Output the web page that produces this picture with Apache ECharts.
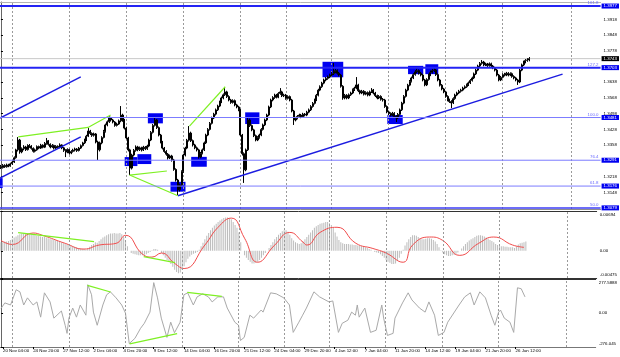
<!DOCTYPE html>
<html><head><meta charset="utf-8">
<script src="https://cdn.jsdelivr.net/npm/echarts@6/dist/echarts.min.js"></script>
<style>html,body{margin:0;padding:0;background:#fff}#c{width:620px;height:357px}</style>
</head><body><div id="c"></div><script>
// ---------------- DATA ----------------
const NBARS = 316; // H4 bar slots incl. empty shift space on the right
// [open, close, low, high]
const candles = [
[1.3262,1.3258,1.3252,1.3270],[1.3258,1.3268,1.3254,1.3274],[1.3268,1.3262,1.3257,1.3273],[1.3262,1.3270,1.3258,1.3276],[1.3270,1.3266,1.3260,1.3275],
[1.3266,1.3275,1.3262,1.3280],[1.3275,1.3283,1.3270,1.3290],[1.3283,1.3302,1.3279,1.3308],[1.3302,1.3337,1.3298,1.3342],[1.3337,1.3381,1.3330,1.3394],
[1.3381,1.3328,1.3320,1.3386],[1.3328,1.3342,1.3322,1.3348],[1.3342,1.3350,1.3335,1.3358],[1.3350,1.3338,1.3332,1.3355],[1.3338,1.3356,1.3334,1.3362],
[1.3356,1.3354,1.3346,1.3363],[1.3354,1.3344,1.3338,1.3358],[1.3344,1.3331,1.3325,1.3348],[1.3331,1.3337,1.3326,1.3343],[1.3337,1.3352,1.3333,1.3357],
[1.3352,1.3345,1.3340,1.3356],[1.3345,1.3358,1.3341,1.3364],[1.3358,1.3349,1.3344,1.3362],[1.3349,1.3366,1.3345,1.3372],[1.3366,1.3377,1.3360,1.3390],
[1.3377,1.3362,1.3356,1.3381],[1.3362,1.3350,1.3344,1.3366],[1.3350,1.3357,1.3346,1.3363],[1.3357,1.3345,1.3339,1.3360],[1.3345,1.3353,1.3341,1.3358],
[1.3353,1.3348,1.3342,1.3357],[1.3348,1.3359,1.3344,1.3366],[1.3359,1.3346,1.3340,1.3362],[1.3346,1.3335,1.3328,1.3350],[1.3335,1.3328,1.3305,1.3340],
[1.3328,1.3339,1.3322,1.3344],[1.3339,1.3323,1.3316,1.3342],[1.3323,1.3330,1.3318,1.3336],[1.3330,1.3336,1.3325,1.3342],[1.3336,1.3341,1.3330,1.3347],
[1.3341,1.3334,1.3328,1.3345],[1.3334,1.3345,1.3330,1.3350],[1.3345,1.3356,1.3341,1.3361],[1.3356,1.3368,1.3352,1.3373],[1.3368,1.3381,1.3363,1.3387],
[1.3381,1.3398,1.3376,1.3404],[1.3398,1.3421,1.3394,1.3434],[1.3421,1.3410,1.3403,1.3426],[1.3410,1.3402,1.3395,1.3415],[1.3402,1.3408,1.3396,1.3414],
[1.3408,1.3372,1.3366,1.3412],[1.3372,1.3337,1.3292,1.3378],[1.3337,1.3368,1.3330,1.3374],[1.3368,1.3392,1.3362,1.3398],[1.3392,1.3420,1.3388,1.3426],
[1.3420,1.3448,1.3414,1.3454],[1.3448,1.3462,1.3442,1.3468],[1.3462,1.3479,1.3457,1.3486],[1.3479,1.3470,1.3463,1.3484],[1.3470,1.3461,1.3455,1.3475],
[1.3461,1.3446,1.3440,1.3465],[1.3446,1.3452,1.3441,1.3458],[1.3452,1.3466,1.3448,1.3472],[1.3466,1.3492,1.3460,1.3532],[1.3492,1.3470,1.3462,1.3498],
[1.3470,1.3434,1.3428,1.3475],[1.3434,1.3390,1.3384,1.3440],[1.3390,1.3337,1.3330,1.3395],[1.3337,1.3256,1.3225,1.3342],[1.3256,1.3314,1.3250,1.3320],
[1.3314,1.3335,1.3308,1.3341],[1.3335,1.3350,1.3329,1.3357],[1.3350,1.3338,1.3331,1.3355],[1.3338,1.3346,1.3332,1.3352],[1.3346,1.3337,1.3330,1.3351],
[1.3337,1.3349,1.3332,1.3355],[1.3349,1.3342,1.3336,1.3354],[1.3342,1.3354,1.3337,1.3360],[1.3354,1.3381,1.3349,1.3387],[1.3381,1.3415,1.3376,1.3421],
[1.3415,1.3446,1.3410,1.3452],[1.3446,1.3470,1.3441,1.3479],[1.3470,1.3436,1.3430,1.3474],[1.3436,1.3403,1.3397,1.3441],[1.3403,1.3372,1.3366,1.3408],
[1.3372,1.3345,1.3339,1.3377],[1.3345,1.3330,1.3324,1.3350],[1.3330,1.3318,1.3311,1.3336],[1.3318,1.3301,1.3294,1.3323],[1.3301,1.3310,1.3296,1.3316],
[1.3310,1.3292,1.3285,1.3315],[1.3292,1.3250,1.3244,1.3297],[1.3250,1.3203,1.3196,1.3255],[1.3203,1.3159,1.3136,1.3208],[1.3159,1.3181,1.3152,1.3187],
[1.3181,1.3240,1.3176,1.3246],[1.3240,1.3314,1.3235,1.3320],[1.3314,1.3345,1.3308,1.3351],[1.3345,1.3380,1.3340,1.3386],[1.3380,1.3412,1.3374,1.3443],
[1.3412,1.3378,1.3372,1.3418],[1.3378,1.3359,1.3352,1.3383],[1.3359,1.3346,1.3340,1.3364],[1.3346,1.3337,1.3330,1.3352],[1.3337,1.3305,1.3298,1.3342],
[1.3305,1.3322,1.3300,1.3328],[1.3322,1.3337,1.3317,1.3343],[1.3337,1.3368,1.3332,1.3374],[1.3368,1.3403,1.3363,1.3409],[1.3403,1.3428,1.3398,1.3434],
[1.3428,1.3455,1.3423,1.3461],[1.3455,1.3479,1.3450,1.3485],[1.3479,1.3496,1.3474,1.3502],[1.3496,1.3515,1.3490,1.3521],[1.3515,1.3532,1.3510,1.3538],
[1.3532,1.3550,1.3527,1.3556],[1.3550,1.3568,1.3545,1.3574],[1.3568,1.3582,1.3562,1.3588],[1.3582,1.3595,1.3577,1.3617],[1.3595,1.3574,1.3568,1.3600],
[1.3574,1.3559,1.3553,1.3580],[1.3559,1.3548,1.3542,1.3564],[1.3548,1.3556,1.3543,1.3562],[1.3556,1.3537,1.3531,1.3561],[1.3537,1.3528,1.3522,1.3542],
[1.3528,1.3515,1.3509,1.3533],[1.3515,1.3403,1.3397,1.3520],[1.3403,1.3320,1.3312,1.3408],[1.3320,1.3248,1.3190,1.3326],[1.3248,1.3337,1.3242,1.3343],
[1.3337,1.3470,1.3332,1.3483],[1.3470,1.3445,1.3439,1.3476],[1.3445,1.3426,1.3420,1.3450],[1.3426,1.3400,1.3394,1.3431],[1.3400,1.3381,1.3375,1.3405],
[1.3381,1.3392,1.3376,1.3398],[1.3392,1.3403,1.3387,1.3409],[1.3403,1.3428,1.3398,1.3434],[1.3428,1.3448,1.3423,1.3454],[1.3448,1.3470,1.3443,1.3476],
[1.3470,1.3492,1.3465,1.3498],[1.3492,1.3528,1.3487,1.3534],[1.3528,1.3559,1.3523,1.3565],[1.3559,1.3570,1.3553,1.3576],[1.3570,1.3581,1.3564,1.3587],
[1.3581,1.3572,1.3566,1.3586],[1.3572,1.3588,1.3567,1.3594],[1.3588,1.3595,1.3582,1.3612],[1.3595,1.3578,1.3572,1.3600],[1.3578,1.3581,1.3572,1.3587],
[1.3581,1.3566,1.3560,1.3586],[1.3566,1.3574,1.3561,1.3580],[1.3574,1.3559,1.3553,1.3579],[1.3559,1.3510,1.3504,1.3564],[1.3510,1.3470,1.3448,1.3515],
[1.3470,1.3478,1.3464,1.3484],[1.3478,1.3486,1.3473,1.3492],[1.3486,1.3492,1.3481,1.3498],[1.3492,1.3484,1.3478,1.3497],[1.3484,1.3496,1.3479,1.3502],
[1.3496,1.3492,1.3486,1.3501],[1.3492,1.3505,1.3487,1.3511],[1.3505,1.3515,1.3500,1.3521],[1.3515,1.3530,1.3510,1.3536],[1.3530,1.3544,1.3525,1.3550],
[1.3544,1.3559,1.3539,1.3565],[1.3559,1.3580,1.3554,1.3586],[1.3580,1.3603,1.3575,1.3609],[1.3603,1.3618,1.3598,1.3624],[1.3618,1.3634,1.3613,1.3640],
[1.3634,1.3648,1.3629,1.3654],[1.3648,1.3655,1.3642,1.3661],[1.3655,1.3662,1.3649,1.3668],[1.3662,1.3670,1.3656,1.3676],[1.3670,1.3676,1.3664,1.3684],
[1.3676,1.3684,1.3670,1.3724],[1.3684,1.3690,1.3678,1.3698],[1.3690,1.3678,1.3672,1.3695],[1.3678,1.3670,1.3664,1.3684],[1.3670,1.3620,1.3614,1.3675],
[1.3620,1.3568,1.3560,1.3625],[1.3568,1.3580,1.3562,1.3586],[1.3580,1.3568,1.3562,1.3585],[1.3568,1.3582,1.3563,1.3588],[1.3582,1.3590,1.3577,1.3596],
[1.3590,1.3604,1.3585,1.3610],[1.3604,1.3612,1.3599,1.3618],[1.3612,1.3626,1.3607,1.3661],[1.3626,1.3600,1.3594,1.3631],[1.3600,1.3590,1.3584,1.3605],
[1.3590,1.3598,1.3585,1.3604],[1.3598,1.3585,1.3579,1.3603],[1.3585,1.3592,1.3580,1.3598],[1.3592,1.3581,1.3575,1.3597],[1.3581,1.3595,1.3576,1.3601],
[1.3595,1.3603,1.3590,1.3612],[1.3603,1.3590,1.3584,1.3608],[1.3590,1.3578,1.3572,1.3595],[1.3578,1.3568,1.3562,1.3583],[1.3568,1.3575,1.3563,1.3581],
[1.3575,1.3562,1.3556,1.3580],[1.3562,1.3559,1.3552,1.3568],[1.3559,1.3530,1.3524,1.3564],[1.3530,1.3506,1.3500,1.3535],[1.3506,1.3498,1.3492,1.3512],
[1.3498,1.3492,1.3486,1.3504],[1.3492,1.3500,1.3487,1.3506],[1.3500,1.3486,1.3480,1.3505],[1.3486,1.3479,1.3461,1.3491],[1.3479,1.3495,1.3474,1.3501],
[1.3495,1.3515,1.3490,1.3521],[1.3515,1.3545,1.3510,1.3551],[1.3545,1.3575,1.3540,1.3581],[1.3575,1.3603,1.3570,1.3609],[1.3603,1.3625,1.3598,1.3631],
[1.3625,1.3642,1.3620,1.3648],[1.3642,1.3657,1.3637,1.3663],[1.3657,1.3672,1.3652,1.3678],[1.3672,1.3684,1.3667,1.3692],[1.3684,1.3690,1.3678,1.3699],
[1.3690,1.3678,1.3672,1.3695],[1.3678,1.3670,1.3664,1.3684],[1.3670,1.3648,1.3642,1.3675],[1.3648,1.3626,1.3620,1.3653],[1.3626,1.3650,1.3621,1.3656],
[1.3650,1.3670,1.3645,1.3676],[1.3670,1.3682,1.3665,1.3690],[1.3682,1.3690,1.3677,1.3698],[1.3690,1.3692,1.3684,1.3701],[1.3692,1.3672,1.3666,1.3697],
[1.3672,1.3648,1.3642,1.3677],[1.3648,1.3625,1.3619,1.3653],[1.3625,1.3608,1.3602,1.3630],[1.3608,1.3595,1.3589,1.3613],[1.3595,1.3575,1.3569,1.3600],
[1.3575,1.3559,1.3553,1.3580],[1.3559,1.3552,1.3546,1.3565],[1.3552,1.3546,1.3523,1.3558],[1.3546,1.3565,1.3541,1.3571],[1.3565,1.3581,1.3560,1.3587],
[1.3581,1.3590,1.3576,1.3596],[1.3590,1.3598,1.3585,1.3604],[1.3598,1.3603,1.3592,1.3609],[1.3603,1.3612,1.3598,1.3618],[1.3612,1.3618,1.3607,1.3624],
[1.3618,1.3626,1.3613,1.3632],[1.3626,1.3635,1.3621,1.3641],[1.3635,1.3646,1.3630,1.3652],[1.3646,1.3657,1.3641,1.3663],[1.3657,1.3675,1.3652,1.3681],
[1.3675,1.3692,1.3670,1.3698],[1.3692,1.3710,1.3687,1.3716],[1.3710,1.3722,1.3705,1.3728],[1.3722,1.3728,1.3716,1.3737],[1.3728,1.3715,1.3709,1.3733],
[1.3715,1.3719,1.3710,1.3725],[1.3719,1.3712,1.3706,1.3724],[1.3712,1.3720,1.3707,1.3726],[1.3720,1.3710,1.3704,1.3725],[1.3710,1.3702,1.3696,1.3715],
[1.3702,1.3692,1.3686,1.3707],[1.3692,1.3670,1.3664,1.3697],[1.3670,1.3648,1.3642,1.3675],[1.3648,1.3660,1.3643,1.3666],[1.3660,1.3672,1.3655,1.3678],
[1.3672,1.3670,1.3664,1.3680],[1.3670,1.3678,1.3665,1.3684],[1.3678,1.3670,1.3664,1.3683],[1.3670,1.3676,1.3665,1.3682],[1.3676,1.3664,1.3658,1.3681],
[1.3664,1.3657,1.3651,1.3669],[1.3657,1.3648,1.3642,1.3662],[1.3648,1.3639,1.3626,1.3653],[1.3639,1.3692,1.3634,1.3698],[1.3692,1.3715,1.3687,1.3721],
[1.3715,1.3728,1.3710,1.3734],[1.3728,1.3735,1.3722,1.3741],[1.3735,1.3737,1.3729,1.3745],[1.3737,1.3743,1.3731,1.3750]
];
const macdHist = [
0.0015,0.0015,0.0016,0.0016,0.0017,
0.0019,0.0021,0.0023,0.0025,0.0027,
0.0029,0.0030,0.0030,0.0031,0.0030,0.0030,0.0029,
0.0028,0.0027,0.0026,0.0026,0.0025,0.0024,0.0024,0.0023,0.0022,0.0021,0.0020,0.0019,0.0018,0.0017,0.0016,0.0015,0.0013,0.0012,
0.0011,0.0010,0.0009,0.0008,0.0007,0.0006,0.0005,0.0004,0.0003,0.0003,0.0002,
0.0004,0.0007,0.0010,0.0012,0.0015,0.0014,0.0017,0.0020,0.0023,0.0025,0.0027,0.0029,
0.0030,0.0030,0.0031,0.0030,0.0030,0.0031,0.0029,0.0024,0.0016,
0.0008,0.0000,-0.0004,
-0.0005,-0.0006,-0.0007,-0.0008,-0.0008,-0.0008,-0.0007,-0.0006,-0.0004,-0.0002,
0.0001,0.0003,0.0003,0.0002,0.0000,-0.0004,-0.0008,
-0.0012,-0.0016,-0.0019,-0.0023,-0.0028,-0.0033,-0.0037,-0.0039,-0.0038,-0.0033,-0.0027,
-0.0020,-0.0014,-0.0010,-0.0007,-0.0005,-0.0004,-0.0002,0.0002,
0.0008,0.0014,0.0020,0.0026,0.0031,0.0036,0.0040,0.0044,0.0047,0.0050,0.0053,0.0055,0.0057,0.0058,0.0058,0.0057,0.0055,
0.0050,0.0045,0.0040,0.0032,0.0015,0.0000,
-0.0008,-0.0012,-0.0016,-0.0019,-0.0022,-0.0022,-0.0021,-0.0019,-0.0016,-0.0012,-0.0008,-0.0004,0.0000,
0.0005,0.0010,0.0015,0.0020,0.0024,0.0028,0.0031,0.0034,0.0036,0.0036,
0.0033,0.0028,0.0022,0.0018,0.0015,0.0013,0.0012,0.0013,0.0016,
0.0020,0.0024,0.0028,0.0032,0.0036,0.0040,0.0043,0.0045,0.0047,0.0048,0.0049,0.0050,0.0050,0.0048,0.0045,0.0040,0.0032,
0.0025,0.0019,0.0015,0.0013,0.0012,0.0012,0.0012,
0.0011,0.0011,0.0010,0.0010,0.0009,0.0009,0.0008,0.0007,0.0006,0.0005,0.0003,0.0002,0.0000,
-0.0002,-0.0003,-0.0004,-0.0006,-0.0009,-0.0012,
-0.0016,-0.0019,-0.0021,-0.0023,-0.0023,-0.0022,-0.0018,-0.0012,-0.0005,0.0002,0.0009,
0.0015,0.0020,0.0024,0.0027,0.0027,0.0026,0.0024,
0.0022,0.0020,0.0020,0.0021,0.0022,0.0022,0.0021,0.0019,0.0016,0.0012,
0.0006,0.0001,-0.0003,-0.0006,
-0.0008,-0.0009,-0.0009,-0.0008,-0.0007,-0.0005,-0.0003,0.0000,0.0004,0.0008,0.0012,
0.0015,0.0018,0.0020,0.0022,0.0024,0.0026,0.0027,0.0027,0.0026,0.0025,0.0023,0.0021,0.0019,0.0017,
0.0015,0.0012,0.0010,0.0009,0.0008,0.0008,0.0007,0.0007,0.0006,0.0006,0.0006,0.0005,
0.0008,0.0011,0.0013,0.0014,0.0015,0.0016
];
// [bar, value]
const macdSignal = [[0,0.0018],[6,0.0011],[17,0.0031],[22,0.0027],[34,0.0013],[44,0.0003],[52,0.0010],[61,0.0013],[66,0.0027],
[75,-0.0006],[80,-0.0011],[85,-0.0004],[92,-0.0022],[97,-0.0031],[108,0.0010],[115,0.0041],[122,0.0057],[129,0.0022],[136,-0.0020],
[145,0.0010],[153,0.0032],[160,0.0015],[162,0.0010],[169,0.0032],[178,0.0041],[188,0.0013],[197,0.0004],[204,-0.0004],[213,-0.0020],
[218,0.0010],[227,0.0024],[234,0.0018],[243,-0.0008],[253,0.0013],[261,0.0024],[271,0.0010],[277,0.0006]];
const cci = [[0,39],[2,83],[5,66],[6,107],[8,190],[10,173],[12,66],[14,124],[17,66],[19,91],[21,-33],[23,165],[26,91],[28,-41],[32,17],
[34,-99],[35,-165],[36,-41],[38,41],[40,-33],[42,66],[45,-17],[46,231],[48,149],[49,8],[51,-99],[54,66],[56,149],[58,173],[61,124],
[64,66],[66,0],[68,-248],[71,-206],[74,-124],[76,-83],[79,8],[81,248],[83,124],[85,-41],[88,-198],[90,-74],[92,-160],[95,-74],[97,149],
[99,165],[102,66],[104,132],[107,157],[110,132],[112,91],[115,132],[118,132],[120,41],[124,-74],[126,-99],[127,-223],[129,-198],[132,-17],
[134,-41],[138,25],[139,8],[143,165],[146,157],[150,124],[153,66],[155,-157],[158,-74],[160,-17],[162,41],[166,173],[169,132],[174,91],
[176,99],[179,-157],[181,-83],[184,-58],[186,8],[188,-17],[189,66],[190,-33],[193,41],[196,-157],[199,-140],[202,66],[203,-41],[205,-182],
[208,-165],[209,-41],[213,83],[216,165],[218,107],[222,41],[225,8],[227,91],[230,-17],[232,-182],[235,-157],[237,-74],[243,66],[246,132],
[249,165],[251,66],[254,173],[257,124],[260,-17],[262,-99],[264,8],[265,25],[267,-41],[270,-74],[272,-157],[274,206],[276,198],[278,132]];

const levelPrices = [1.3977,1.3703,1.3481,1.3291,1.3176,1.3079];
const levelNames  = ['161.8','127.2','100.0','76.4','61.8','50.0'];
const bidPrice = 1.3743;
const priceTicks = [1.3918,1.3848,1.3778,1.3638,1.3568,1.3498,1.3428,1.3358,1.3218,1.3148];
const macdTicks = [0.00694,0,-0.00475];
const cciTicks = [277.5888,0,-276.045];
const weekLineBars = [6,36,66,96,126,150,174,204,234,264,300];
const xTickBars = [1,17,33,49,65,81,97,113,129,145,161,177,193,209,225,241,257,273];
const xTickLabels = ['20 Nov 04:00','24 Nov 20:00','27 Nov 12:00','2 Dec 04:00','4 Dec 20:00','9 Dec 12:00','14 Dec 04:00',
'16 Dec 20:00','21 Dec 12:00','24 Dec 04:00','29 Dec 20:00','4 Jan 12:00','7 Jan 04:00','11 Jan 20:00','14 Jan 12:00',
'19 Jan 04:00','21 Jan 20:00','26 Jan 12:00'];
const blueTrendLines = [
 [[-0.5,1.3479],[42,1.3662]],
 [[-0.5,1.3212],[42,1.3395]],
 [[93.1,1.3133],[295.5,1.3674]]
];
const greenPriceLines = [
 [[9.1,1.3395],[45.8,1.3437],[57.7,1.3492]],
 [[67.7,1.3225],[87.3,1.3243]],
 [[67.7,1.3225],[93.1,1.3133]],
 [[99.2,1.3443],[118,1.3618]]
];
// [bar1, price1, bar2, price2]
const boxes = [
 [-0.5,1.3211,0.9,1.3167],[65.1,1.3305,71.8,1.3265],[71.8,1.3318,79.1,1.3274],[77.3,1.3500,85.2,1.3455],
 [89.2,1.3195,97.1,1.3151],[100.1,1.3306,108.3,1.3262],[128.5,1.3504,136,1.3452],[169.2,1.3729,180.1,1.3660],
 [203.3,1.3492,211.4,1.3452],[214.2,1.3711,222.2,1.3674],[223.3,1.3718,230.1,1.3674]
];
const greenMacdLines = [ [[9.1,0.00316],[49.3,0.00159]], [[75.6,-0.00103],[92.2,-0.00208]] ];
const greenCciLines = [ [[45.8,226],[58.1,172]], [[68.2,-250],[93.4,-167]], [[98.8,169],[117.1,136]] ];

// ---------------- STYLE ----------------
const FONT = 'Liberation Sans';
const FS = 4.4;
const levelColor = ['#2424f4','#2424f4','#7c7cff','#7c7cff','#7c7cff','#3c3cf4'];
const levelWidth = [2,2,1,1,1,1.5];
const GREEN = '#7ef023';
const cats = [];
for (let i = 0; i < NBARS; i++) cats.push(String(i));

function catAxis(gi, color, width, withLabels) {
  const ax = {type:'category', gridIndex:gi, data:cats, boundaryGap:true,
    axisLine:{show:true, onZero:false, lineStyle:{color:color, width:width}},
    axisTick:{show:false}, axisLabel:{show:false}, splitLine:{show:false}};
  if (withLabels) {
    ax.axisLabel = {show:true, interval:(i)=>xTickBars.indexOf(i) >= 0,
      formatter:(v,i)=>xTickLabels[xTickBars.indexOf(i)] || '', align:'left',
      fontSize:FS, color:'#000', margin:2, fontFamily:FONT};
    ax.axisTick = {show:true, interval:(i)=>xTickBars.indexOf(i) >= 0, alignWithLabel:true, length:2, lineStyle:{color:'#000'}};
  }
  return ax;
}
function valAxis(gi, color, width) {
  return {type:'value', gridIndex:gi, min:-0.5, max:NBARS-0.5, position:'top',
    axisLine:{show:true, onZero:false, lineStyle:{color:color, width:width}},
    axisTick:{show:false}, axisLabel:{show:false}, splitLine:{show:false}};
}
const edgeRich = {
  t:{padding:[7,0,0,0], fontSize:FS, color:'#000', fontFamily:FONT},
  b:{padding:[0,0,7,0], fontSize:FS, color:'#000', fontFamily:FONT}
};
function yAx(gi, min, max, ticks, fmt) {
  return {type:'value', gridIndex:gi, position:'right', min:min, max:max,
    axisLine:{show:true, lineStyle:{color:'#666', width:1}},
    axisTick:{show:true, customValues:ticks, length:2, lineStyle:{color:'#000'}},
    axisLabel:{show:true, customValues:ticks, fontSize:FS, color:'#000', margin:3, fontFamily:FONT, rich:edgeRich,
      formatter:(v)=>{ const s = fmt(v); if (v === max) return '{t|' + s + '}'; if (v === min) return '{b|' + s + '}'; return s; }},
    splitLine:{show:false}};
}
const weekMarks = {symbol:['none','none'], silent:true, animation:false,
  lineStyle:{color:'#9a9a9a', type:[2,2], width:1}, label:{show:false},
  data: weekLineBars.map(b => ({xAxis:b}))};

function lineSeries(xi, yi, data, color, width, z) {
  return {type:'line', xAxisIndex:xi, yAxisIndex:yi, data:data, showSymbol:false, symbol:'none',
    lineStyle:{color:color, width:width}, z:z, silent:true, animation:false};
}

const series = [];
// ---- price panel ----
const overlayPrice = lineSeries(1, 0, blueTrendLines[0], '#1c1ce0', 1.5, 6);
overlayPrice.markLine = weekMarks;
overlayPrice.markArea = {silent:true, animation:false, itemStyle:{color:'#0000f0', opacity:1},
  data: boxes.map(b => [{coord:[b[0], b[1]]}, {coord:[b[2], b[3]]}])};
series.push(overlayPrice);
blueTrendLines.slice(1).forEach(l => series.push(lineSeries(1, 0, l, '#1c1ce0', 1.5, 6)));
greenPriceLines.forEach(l => series.push(lineSeries(1, 0, l, GREEN, 1.2, 6)));
// bid line
series.push({type:'line', xAxisIndex:1, yAxisIndex:0, z:3, silent:true, animation:false,
  showSymbol:false, symbol:'none', lineStyle:{color:'#c8c8c8', width:1},
  data:[[-0.5,bidPrice],[NBARS-0.5,bidPrice]],
  endLabel:{show:true, formatter:bidPrice.toFixed(4), backgroundColor:'#000', color:'#fff',
    fontSize:FS, padding:[1,2,0,2], distance:1, fontFamily:FONT}});
// level lines
levelPrices.forEach((p, i) => {
  series.push({type:'line', xAxisIndex:1, yAxisIndex:0, z:7, silent:true, animation:false,
    showSymbol:true, symbol:'circle', symbolSize:0.01,
    lineStyle:{color:levelColor[i], width:levelWidth[i]},
    itemStyle:{color:levelColor[i]},
    data:[{value:[-0.5,p], label:{show:false}},
          {value:[NBARS-0.5,p], label:{show:true, position:'left', distance:2, offset:[0,-3],
            formatter:levelNames[i], color:'#6a6aff', fontSize:FS, fontFamily:FONT}}],
    endLabel:{show:true, formatter:p.toFixed(4), backgroundColor:'#0000f0', color:'#fff',
      fontSize:FS, padding:[1,2,0,2], distance:1, fontFamily:FONT}});
});
series.push({type:'candlestick', xAxisIndex:0, yAxisIndex:0, data:candles, barWidth:1.5, z:5, silent:true, animation:false,
  itemStyle:{color:'#fff', color0:'#000', borderColor:'#000', borderColor0:'#000', borderWidth:1}});
// ---- MACD panel ----
series.push({type:'bar', xAxisIndex:2, yAxisIndex:1, data:macdHist, barWidth:1, silent:true, animation:false,
  itemStyle:{color:'#bcbcbc'}, z:2, markLine:weekMarks});
const sig = lineSeries(3, 1, macdSignal, '#f04c4c', 1, 4); sig.smooth = 0.5;
series.push(sig);
greenMacdLines.forEach(l => series.push(lineSeries(3, 1, l, GREEN, 1.2, 5)));
// ---- CCI panel ----
const cciS = lineSeries(5, 2, cci, '#a9a9a9', 1, 3); cciS.markLine = weekMarks;
series.push(cciS);
greenCciLines.forEach(l => series.push(lineSeries(5, 2, l, GREEN, 1.2, 5)));

const chart = echarts.init(document.getElementById('c'), null, {renderer:'canvas'});
chart.setOption({
  animation:false,
  backgroundColor:'#fff',
  textStyle:{fontFamily:FONT},
  grid:[
    {left:0, right:19, top:2, height:207},
    {left:0, right:19, top:211, height:67},
    {left:0, right:19, top:279, height:68}
  ],
  xAxis:[
    catAxis(0, '#8c8c8c', 1, false), valAxis(0, '#b4b4b4', 1),
    catAxis(1, '#333', 1, false), valAxis(1, '#333', 1),
    catAxis(2, '#777', 1, true), valAxis(2, '#333', 1)
  ],
  yAxis:[
    yAx(0, 1.3074, 1.3995, priceTicks, v => v.toFixed(4)),
    yAx(1, -0.00475, 0.00694, macdTicks, v => v === 0 ? '0.00' : String(v)),
    yAx(2, -276.045, 277.5888, cciTicks, v => v === 0 ? '0.00' : String(v))
  ],
  series: series
});
</script></body></html>
